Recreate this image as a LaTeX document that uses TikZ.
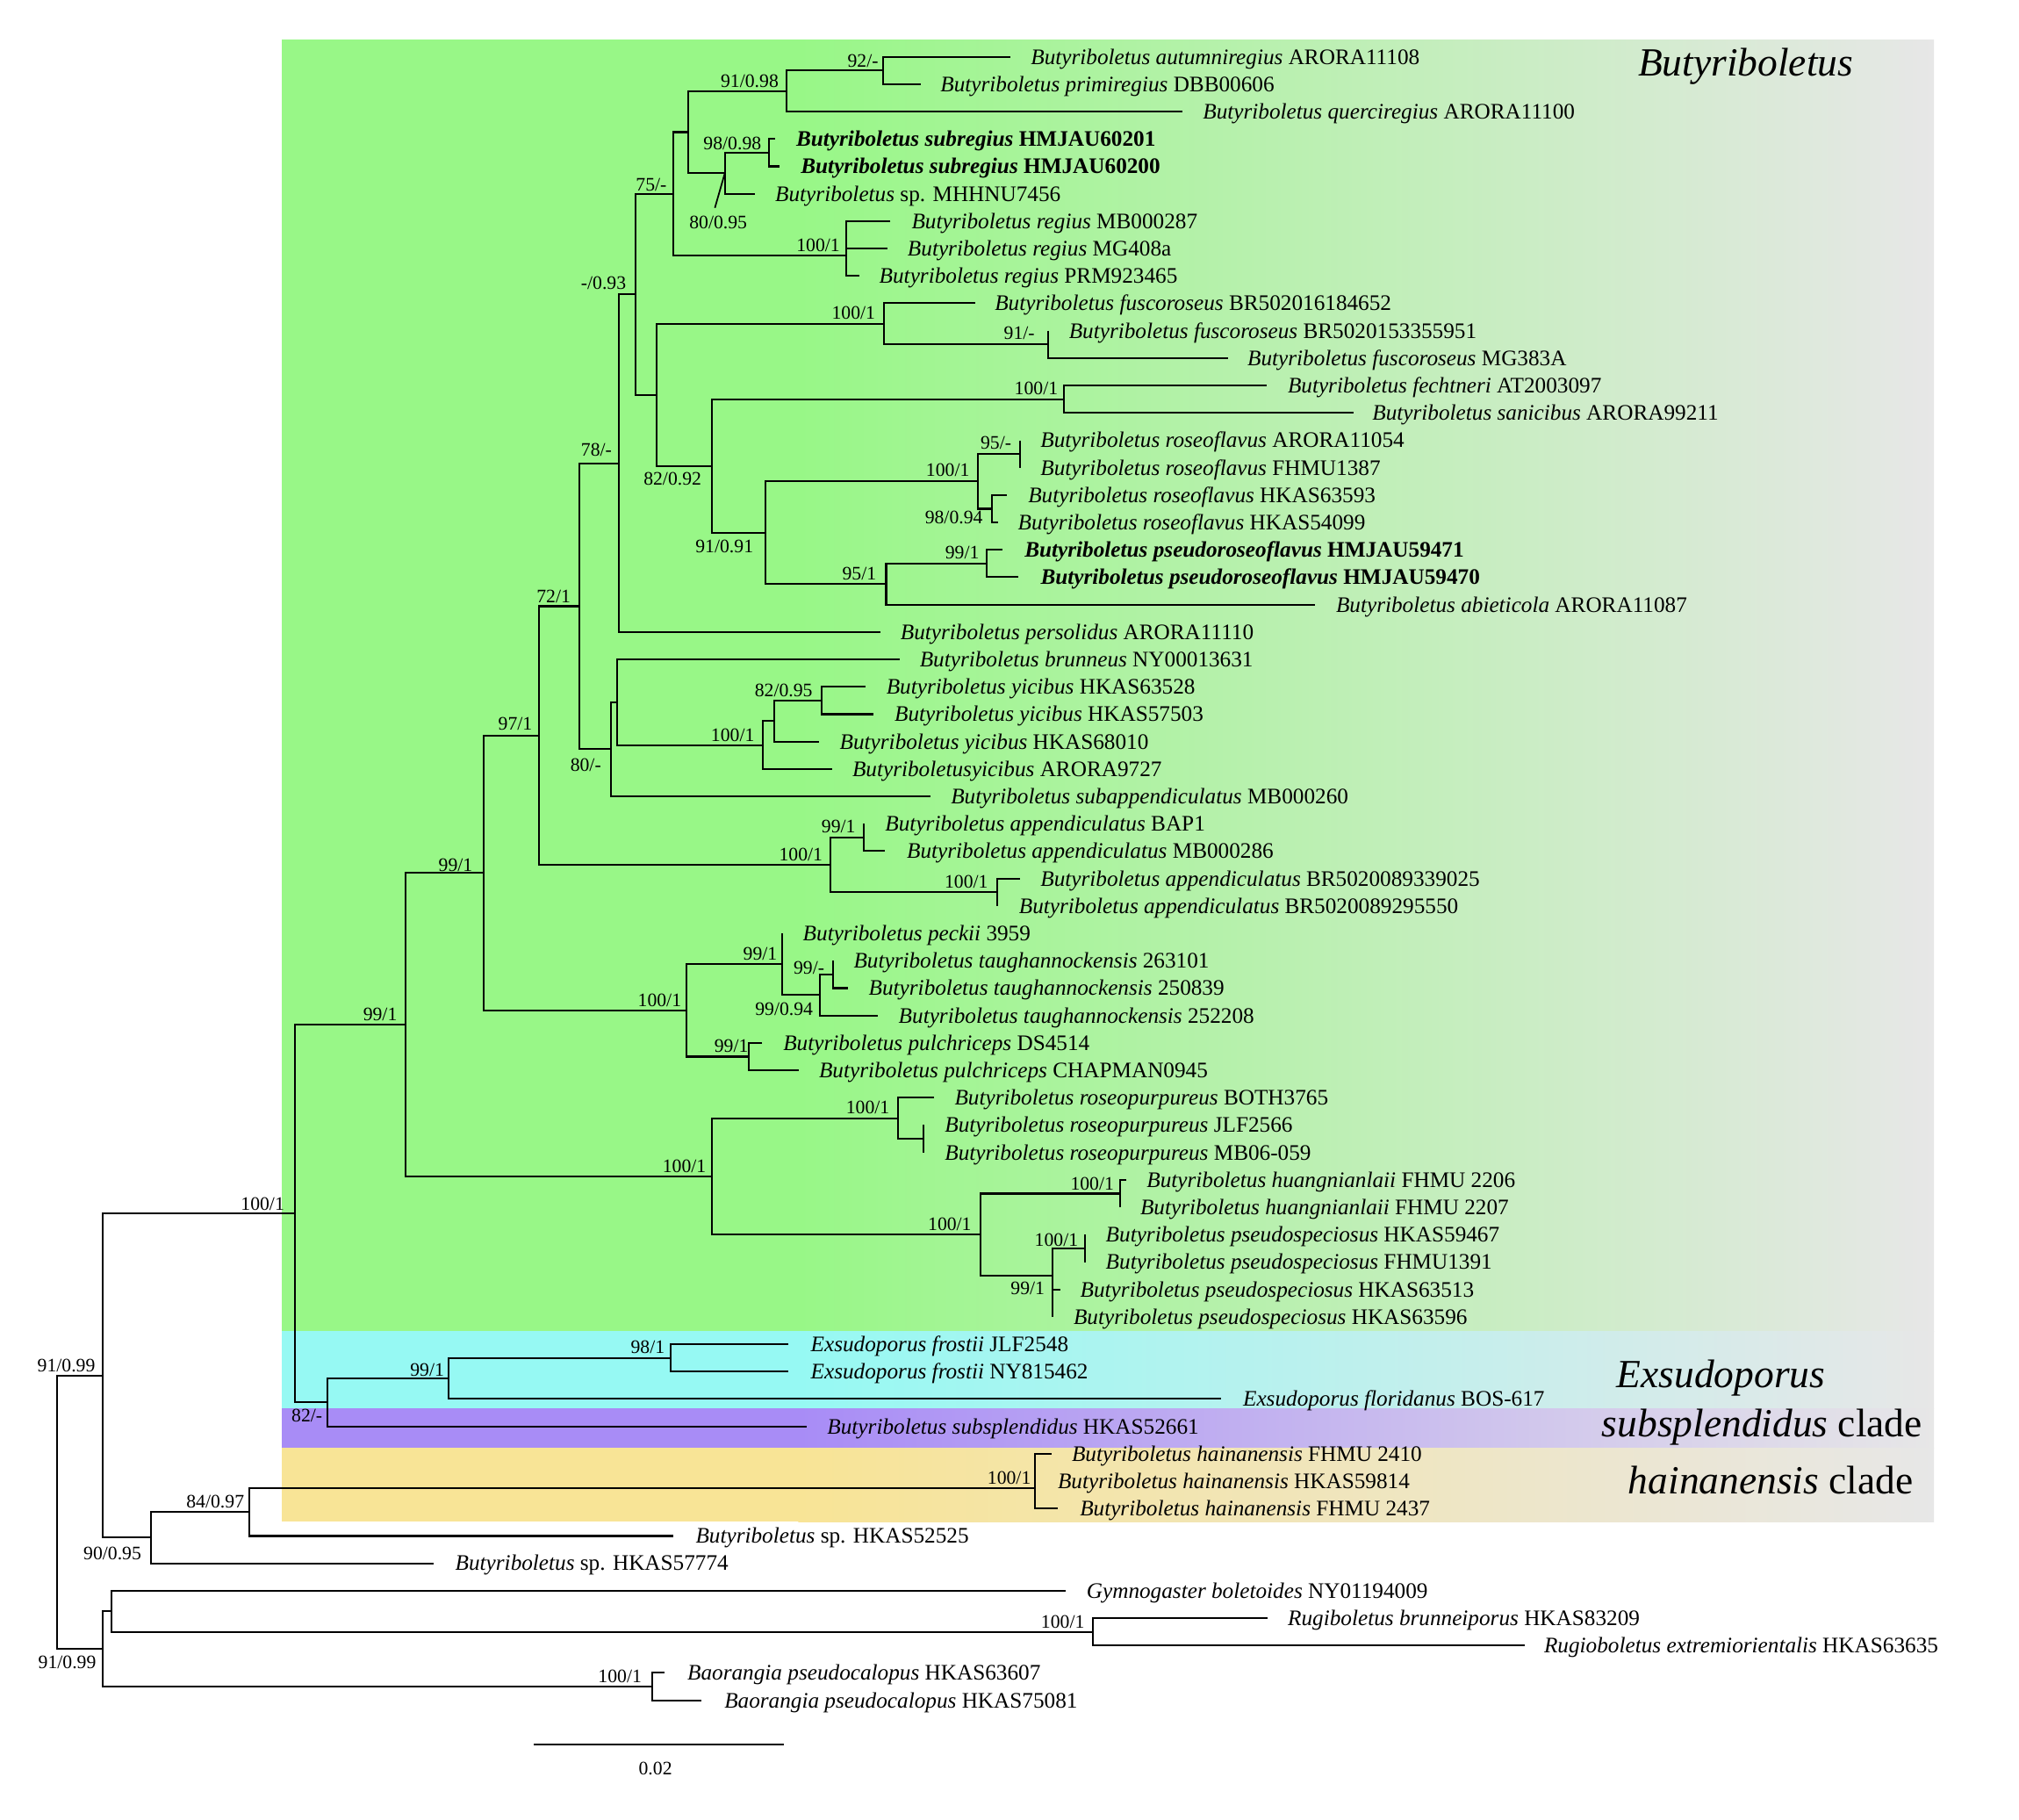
\documentclass[tikz,border=0pt]{standalone}
\usepackage{fontspec}
\setmainfont{Liberation Serif}
\definecolor{greenC}{RGB}{152,247,135}
\definecolor{greyC}{RGB}{231,231,231}
\definecolor{cyanC}{RGB}{150,249,243}
\definecolor{purpC}{RGB}{168,140,246}
\definecolor{orC}{RGB}{248,228,150}
\newcommand\gn[1]{\textit{#1}}
\newcommand\leaf[5]{\coordinate (#1) at (#2,#3); \node[taxon] (#1t) at (#4,#3) {#5};}
\newcommand\inode[5]{\coordinate (#1) at (#2,#3); \draw[br] (#4) -| (#1) |- (#5);}
\newcommand\bsup[4]{\node[lab] (#1) at (#2,#3) {#4};}
\begin{document}
\begin{tikzpicture}[x=1pt,y=-1pt,
  br/.style={line width=1.4pt, line join=miter},
  taxon/.style={anchor=base west, inner sep=0pt, font=\fontsize{17.2}{20}\selectfont, yshift=-5.7pt},
  lab/.style={anchor=base east, inner sep=0pt, font=\fontsize{14.8}{17}\selectfont},
  clade/.style={anchor=base west, inner sep=0pt, font=\fontsize{31}{36}\selectfont}]
\useasboundingbox (0,0) rectangle (1568,1413);
\fill[white] (0,0) rectangle (1568,1413);
% coloured bands
\fill[greenC] (219,30.7) rectangle (621,1033.8);
\shade[left color=greenC,right color=greyC] (620,30.7) rectangle (1502,1033.8);
\fill[cyanC] (219,1033.6) rectangle (621,1093.9);
\shade[left color=cyanC,right color=greyC] (620,1033.6) rectangle (1502,1093.9);
\fill[purpC] (219,1093.7) rectangle (621,1124.4);
\shade[left color=purpC,right color=greyC] (620,1093.7) rectangle (1502,1124.4);
\fill[orC] (219,1124.4) rectangle (621,1181.7);
\shade[left color=orC,right color=greyC] (620,1124.4) rectangle (1502,1181.7);
% leaves
\leaf{L1}{784.5}{44.1}{800.4}{\gn{Butyriboletus autumniregius} ARORA11108}
\leaf{L2}{715.2}{65.4}{730.2}{\gn{Butyriboletus primiregius} DBB00606}
\leaf{L3}{918}{86.6}{934}{\gn{Butyriboletus querciregius} ARORA11100}
\leaf{L4}{601.9}{107.9}{618.2}{\textbf{\gn{Butyriboletus subregius} HMJAU60201}}
\leaf{L5}{605.5}{129.2}{621.8}{\textbf{\gn{Butyriboletus subregius} HMJAU60200}}
\leaf{L6}{586}{150.5}{601.9}{\gn{Butyriboletus} sp. MHHNU7456}
\leaf{L7}{691.5}{171.7}{707.8}{\gn{Butyriboletus regius} MB000287}
\leaf{L8}{689}{193.0}{704.7}{\gn{Butyriboletus regius} MG408a}
\leaf{L9}{667.2}{214.3}{682.7}{\gn{Butyriboletus regius} PRM923465}
\leaf{L10}{757.2}{235.5}{772.4}{\gn{Butyriboletus fuscoroseus} BR502016184652}
\leaf{L11}{814}{256.8}{830}{\gn{Butyriboletus fuscoroseus} BR5020153355951}
\leaf{L12}{954}{278.1}{968.6}{\gn{Butyriboletus fuscoroseus} MG383A}
\leaf{L13}{983.7}{299.3}{999.9}{\gn{Butyriboletus fechtneri} AT2003097}
\leaf{L14}{1051}{320.6}{1065.6}{\gn{Butyriboletus sanicibus} ARORA99211}
\leaf{L15}{792.3}{341.9}{807.9}{\gn{Butyriboletus roseoflavus} ARORA11054}
\leaf{L16}{792.3}{363.2}{807.9}{\gn{Butyriboletus roseoflavus} FHMU1387}
\leaf{L17}{782}{384.4}{798.3}{\gn{Butyriboletus roseoflavus} HKAS63593}
\leaf{L18}{774.8}{405.7}{790.4}{\gn{Butyriboletus roseoflavus} HKAS54099}
\leaf{L19}{778.5}{427.0}{795.6}{\textbf{\gn{Butyriboletus pseudoroseoflavus} HMJAU59471}}
\leaf{L20}{791}{448.2}{808}{\textbf{\gn{Butyriboletus pseudoroseoflavus} HMJAU59470}}
\leaf{L21}{1020.9}{469.5}{1037.4}{\gn{Butyriboletus abieticola} ARORA11087}
\leaf{L22}{683.5}{490.8}{699.2}{\gn{Butyriboletus persolidus} ARORA11110}
\leaf{L23}{698.5}{512.0}{714.1}{\gn{Butyriboletus brunneus} NY00013631}
\leaf{L24}{672.3}{533.3}{688.2}{\gn{Butyriboletus yicibus} HKAS63528}
\leaf{L25}{678.5}{554.6}{694.6}{\gn{Butyriboletus yicibus} HKAS57503}
\leaf{L26}{636.2}{575.9}{652}{\gn{Butyriboletus yicibus} HKAS68010}
\leaf{L27}{646.4}{597.1}{661.8}{\gn{Butyriboletusyicibus} ARORA9727}
\leaf{L28}{722.5}{618.4}{738.3}{\gn{Butyriboletus subappendiculatus} MB000260}
\leaf{L29}{670.6}{639.7}{687.3}{\gn{Butyriboletus appendiculatus} BAP1}
\leaf{L30}{687.3}{660.9}{704.1}{\gn{Butyriboletus appendiculatus} MB000286}
\leaf{L31}{792}{682.2}{807.9}{\gn{Butyriboletus appendiculatus} BR5020089339025}
\leaf{L32}{774.5}{703.5}{791.2}{\gn{Butyriboletus appendiculatus} BR5020089295550}
\leaf{L33}{607.2}{724.7}{623.4}{\gn{Butyriboletus peckii} 3959}
\leaf{L34}{647.1}{746.0}{662.8}{\gn{Butyriboletus taughannockensis} 263101}
\leaf{L35}{658.3}{767.3}{674.5}{\gn{Butyriboletus taughannockensis} 250839}
\leaf{L36}{681.6}{788.6}{697.7}{\gn{Butyriboletus taughannockensis} 252208}
\leaf{L37}{592}{809.8}{608.1}{\gn{Butyriboletus pulchriceps} DS4514}
\leaf{L38}{620.3}{831.1}{635.9}{\gn{Butyriboletus pulchriceps} CHAPMAN0945}
\leaf{L39}{725.5}{852.4}{741.2}{\gn{Butyriboletus roseopurpureus} BOTH3765}
\leaf{L40}{717.5}{873.6}{733.6}{\gn{Butyriboletus roseopurpureus} JLF2566}
\leaf{L41}{717.5}{894.9}{733.6}{\gn{Butyriboletus roseopurpureus} MB06-059}
\leaf{L42}{874.7}{916.2}{890.4}{\gn{Butyriboletus huangnianlaii} FHMU 2206}
\leaf{L43}{869.7}{937.4}{885.4}{\gn{Butyriboletus huangnianlaii} FHMU 2207}
\leaf{L44}{842.9}{958.7}{858.6}{\gn{Butyriboletus pseudospeciosus} HKAS59467}
\leaf{L45}{842.9}{980.0}{858.6}{\gn{Butyriboletus pseudospeciosus} FHMU1391}
\leaf{L46}{823.2}{1001.3}{838.8}{\gn{Butyriboletus pseudospeciosus} HKAS63513}
\leaf{L47}{817.4}{1022.5}{833.6}{\gn{Butyriboletus pseudospeciosus} HKAS63596}
\leaf{L48}{612.3}{1043.8}{629.5}{\gn{Exsudoporus frostii} JLF2548}
\leaf{L49}{612.3}{1065.1}{629.5}{\gn{Exsudoporus frostii} NY815462}
\leaf{L50}{948.4}{1086.3}{965.2}{\gn{Exsudoporus floridanus} BOS-617}
\leaf{L51}{626.3}{1107.6}{642.3}{\gn{Butyriboletus subsplendidus} HKAS52661}
\leaf{L52}{816.8}{1128.9}{832.2}{\gn{Butyriboletus hainanensis} FHMU 2410}
\leaf{L53}{804}{1150.1}{821.3}{\gn{Butyriboletus hainanensis} HKAS59814}
\leaf{L54}{821.3}{1171.4}{838.5}{\gn{Butyriboletus hainanensis} FHMU 2437}
\leaf{L55}{522.8}{1192.7}{540.1}{\gn{Butyriboletus} sp. HKAS52525}
\leaf{L56}{336.8}{1213.9}{353.4}{\gn{Butyriboletus} sp. HKAS57774}
\leaf{L57}{827.7}{1235.2}{843.7}{\gn{Gymnogaster boletoides} NY01194009}
\leaf{L58}{984.2}{1256.5}{1000}{\gn{Rugiboletus brunneiporus} HKAS83209}
\leaf{L59}{1184}{1277.8}{1199}{\gn{Rugioboletus extremiorientalis} HKAS63635}
\leaf{L60}{516.4}{1299.0}{533.7}{\gn{Baorangia pseudocalopus} HKAS63607}
\leaf{L61}{544.5}{1320.3}{562.4}{\gn{Baorangia pseudocalopus} HKAS75081}
% internal nodes and branches
\inode{N92}{685.6}{54.75}{L1}{L2}
\inode{N9198}{610.9}{70.7}{N92}{L3}
\inode{N9898}{597.5}{118.55}{L4}{L5}
\inode{N8095}{562.9}{134.5}{N9898}{L6}
\inode{Na}{534.2}{102.6}{N9198}{N8095}
\inode{Nreg1}{657.4}{182.35}{L7}{L8}
\inode{Nreg}{657.4}{198.3}{Nreg1}{L9}
\inode{N75}{522.8}{150.45}{Na}{Nreg}
\inode{Nfus91}{814}{267.45}{L11}{L12}
\inode{Nfus}{686.3}{251.5}{L10}{Nfus91}
\inode{Nfech}{826}{309.95}{L13}{L14}
\inode{Nros95}{792.3}{352.55}{L15}{L16}
\inode{Nros98}{770.3}{395.05}{L17}{L18}
\inode{Nros100}{759.7}{373.8}{Nros95}{Nros98}
\inode{Npr99}{766}{437.6}{L19}{L20}
\inode{Npr95}{688.2}{453.55}{Npr99}{L21}
\inode{N9191}{594.2}{413.7}{Nros100}{Npr95}
\inode{N8292}{552.7}{361.8}{Nfech}{N9191}
\inode{Nb}{510.1}{306.65}{Nfus}{N8292}
\inode{N093}{493.4}{228.55}{N75}{Nb}
\inode{N78}{480.4}{359.7}{N093}{L22}
\inode{Nyic82}{638.1}{543.95}{L24}{L25}
\inode{Nyic1}{601.6}{559.9}{Nyic82}{L26}
\inode{Nyic100}{592.7}{578.5}{Nyic1}{L27}
\inode{Nd}{479}{545.25}{L23}{Nyic100}
\inode{N80}{474.5}{581.8}{Nd}{L28}
\inode{N72}{449.8}{470.75}{N78}{N80}
\inode{Napp99}{670.6}{650.3}{L29}{L30}
\inode{NappBR}{774.5}{692.85}{L31}{L32}
\inode{Napp100}{645.1}{671.6}{Napp99}{NappBR}
\inode{N97}{418.3}{571.2}{N72}{Napp100}
\inode{Ntau99m}{647.1}{756.65}{L34}{L35}
\inode{Ntau9994}{636.8}{772.6}{Ntau99m}{L36}
\inode{Npk99}{607.2}{748.65}{L33}{Ntau9994}
\inode{Npul99}{581.3}{820.45}{L37}{L38}
\inode{Ntau100}{532.8}{784.55}{Npk99}{Npul99}
\inode{N99b}{375.5}{677.9}{N97}{Ntau100}
\inode{Nrp0}{717.5}{884.25}{L40}{L41}
\inode{Nrp100}{697.7}{868.3}{L39}{Nrp0}
\inode{Nhu100}{869.7}{926.8}{L42}{L43}
\inode{Nps100}{842.9}{969.35}{L44}{L45}
\inode{Nps0}{817.4}{1011.9}{L46}{L47}
\inode{Nps99}{817.4}{990.6}{Nps100}{Nps0}
\inode{Nhp100}{761.3}{958.7}{Nhu100}{Nps99}
\inode{Nrh100}{553}{913.5}{Nrp100}{Nhp100}
\inode{N99a}{315}{795.7}{N99b}{Nrh100}
\inode{Nex98}{521}{1054.45}{L48}{L49}
\inode{Nex99}{348.4}{1070.4}{Nex98}{L50}
\inode{N82}{254.5}{1089}{Nex99}{L51}
\inode{Nmain}{229.2}{942.35}{N99a}{N82}
\inode{Nhai0}{804}{1139.5}{L52}{L53}
\inode{Nhai100}{804}{1155.45}{Nhai0}{L54}
\inode{N84}{193.7}{1174.1}{Nhai100}{L55}
\inode{N90}{117}{1194}{N84}{L56}
\inode{N91u}{80}{1068.2}{Nmain}{N90}
\inode{Nrug}{849}{1267.15}{L58}{L59}
\inode{Ngym}{86.3}{1251.2}{L57}{Nrug}
\inode{Nbao}{506.8}{1309.65}{L60}{L61}
\inode{N91l}{80}{1280.4}{Ngym}{Nbao}
\inode{R}{44.6}{1174.3}{N91u}{N91l}
% leader line for 80/0.95
\coordinate (ld) at (555.2,161.4);
\draw[line width=1.2pt] (N8095) -- (ld);
% support values
\bsup{s1}{682.3}{52.3}{92/-}
\bsup{s2}{604.8}{67.5}{91/0.98}
\bsup{s3}{591.4}{116.4}{98/0.98}
\bsup{s4}{580.4}{177.7}{80/0.95}
\bsup{s5}{517.9}{148.2}{75/-}
\bsup{s6}{652.5}{195.2}{100/1}
\bsup{s7}{486.4}{224.5}{-/0.93}
\bsup{s8}{679.9}{247.7}{100/1}
\bsup{s9}{803.7}{263.6}{91/-}
\bsup{s10}{821.8}{306.3}{100/1}
\bsup{s11}{544.9}{376.6}{82/0.92}
\bsup{s12}{785.6}{348.8}{95/-}
\bsup{s13}{753.1}{370}{100/1}
\bsup{s14}{763.4}{406.8}{98/0.94}
\bsup{s15}{585.2}{429.1}{91/0.91}
\bsup{s16}{760.6}{433.6}{99/1}
\bsup{s17}{680.7}{450}{95/1}
\bsup{s18}{475.3}{354.5}{78/-}
\bsup{s19}{443.3}{467.7}{72/1}
\bsup{s20}{413.5}{567}{97/1}
\bsup{s21}{467}{598.8}{80/-}
\bsup{s22}{631.2}{540.9}{82/0.95}
\bsup{s23}{586.1}{575.4}{100/1}
\bsup{s24}{664.6}{646.5}{99/1}
\bsup{s25}{639}{668.1}{100/1}
\bsup{s26}{767.5}{689.3}{100/1}
\bsup{s27}{603.7}{745.2}{99/1}
\bsup{s28}{640.4}{756.5}{99/-}
\bsup{s29}{631.5}{788.3}{99/0.94}
\bsup{s30}{529.3}{781.5}{100/1}
\bsup{s31}{581.3}{817.2}{99/1}
\bsup{s32}{691}{865}{100/1}
\bsup{s33}{548.5}{910.4}{100/1}
\bsup{s34}{754.6}{955.4}{100/1}
\bsup{s35}{865.3}{924}{100/1}
\bsup{s36}{837.5}{967.9}{100/1}
\bsup{s37}{811.5}{1005.4}{99/1}
\bsup{s38}{308.6}{792.6}{99/1}
\bsup{s39}{367.2}{676.4}{99/1}
\bsup{s40}{221}{939.8}{100/1}
\bsup{s41}{74.1}{1065.2}{91/0.99}
\bsup{s42}{516.4}{1051}{98/1}
\bsup{s43}{345.1}{1068.8}{99/1}
\bsup{s44}{250.5}{1104.4}{82/-}
\bsup{s45}{800.8}{1152.6}{100/1}
\bsup{s46}{189.8}{1171}{84/0.97}
\bsup{s47}{109.9}{1210.8}{90/0.95}
\bsup{s48}{842.4}{1264}{100/1}
\bsup{s49}{74.8}{1295.3}{91/0.99}
\bsup{s50}{498.5}{1306.3}{100/1}
% clade labels
\node[clade] (cB) at (1272,59.1) {\textit{Butyriboletus}};
\node[clade] (cE) at (1255.4,1077.2) {\textit{Exsudoporus}};
\node[clade] (cS) at (1243.9,1115.8) {\textit{subsplendidus} clade};
\node[clade] (cH) at (1264.4,1160.1) {\textit{hainanensis} clade};
% scale bar
\coordinate (sb1) at (414.7,1354.4);
\coordinate (sb2) at (609,1354.4);
\draw[br] (sb1) -- (sb2);
\node[lab, anchor=base] (sbl) at (509,1378.3) {0.02};
\end{tikzpicture}
\end{document}
